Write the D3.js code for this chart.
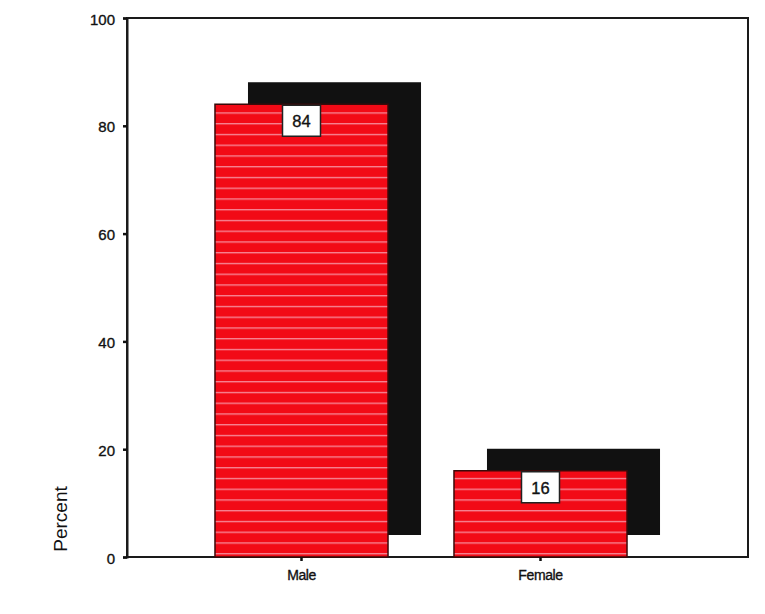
<!DOCTYPE html>
<html>
<head>
<meta charset="utf-8">
<script src="https://cdn.jsdelivr.net/npm/d3@7"></script>
<style>
  html, body { margin: 0; padding: 0; background: #fff; }
  svg { display: block; font-family: "Liberation Sans", Arial, sans-serif; }
  .heavy { stroke: #111; stroke-width: 0.35px; }
</style>
</head>
<body>
<svg id="chart" width="765" height="614"></svg>
<script>
// Gender distribution, percent
const categories = ["Male", "Female"];
const percents = [84, 16];
const yTicks = [0, 20, 40, 60, 80, 100];

const svg = d3.select("#chart");
const plotLeft = 127, plotRight = 748, plotTop = 18, plotBottom = 557;

const x = d3.scaleBand()
  .domain(categories)
  .range([182, 660])
  .paddingInner(0.276)
  .paddingOuter(0.138);

const y = d3.scaleLinear().domain([0, 100]).range([plotBottom, plotTop]);

// drop-shadow offset of the 3D-style bars
const shadowDx = 33, shadowDy = -22;

// horizontal hatch for the bar fill
const defs = svg.append("defs");
const pat = defs.append("pattern")
  .attr("id", "stripes")
  .attr("patternUnits", "userSpaceOnUse")
  .attr("x", 0).attr("y", plotBottom)
  .attr("width", 8).attr("height", 10.75);
pat.append("rect").attr("width", 8).attr("height", 10.75).attr("fill", "#f20a16");
pat.append("rect").attr("y", 7).attr("width", 8).attr("height", 1.1).attr("fill", "#f7a3b3");

// plot frame
svg.append("rect")
  .attr("x", plotLeft).attr("y", plotTop)
  .attr("width", plotRight - plotLeft).attr("height", plotBottom - plotTop)
  .attr("fill", "none").attr("stroke", "#1a1a1a").attr("stroke-width", 2);

// shadows
svg.selectAll("rect.shadow")
  .data(categories)
  .join("rect")
  .attr("class", "shadow")
  .attr("x", d => x(d) + shadowDx)
  .attr("y", (d, i) => y(percents[i]) + shadowDy)
  .attr("width", x.bandwidth())
  .attr("height", (d, i) => y(0) - y(percents[i]))
  .attr("fill", "#111");

// bars
svg.selectAll("rect.bar")
  .data(categories)
  .join("rect")
  .attr("class", "bar")
  .attr("x", d => x(d))
  .attr("y", (d, i) => y(percents[i]))
  .attr("width", x.bandwidth())
  .attr("height", (d, i) => y(0) - y(percents[i]))
  .attr("fill", "url(#stripes)")
  .attr("stroke", "#3a0a0a").attr("stroke-width", 1.5);

// value labels
const lbl = svg.selectAll("g.vlabel")
  .data(categories)
  .join("g")
  .attr("class", "vlabel")
  .attr("transform", (d, i) => `translate(${x(d) + x.bandwidth() / 2},${y(percents[i])})`);
lbl.append("rect")
  .attr("x", -19).attr("y", 1).attr("width", 38).attr("height", 31)
  .attr("fill", "#fff").attr("stroke", "#222").attr("stroke-width", 1.5);
lbl.append("text")
  .attr("class", "heavy")
  .attr("y", 23).attr("text-anchor", "middle")
  .attr("font-size", 16.5).attr("fill", "#111")
  .text((d, i) => percents[i]);

// y axis
const yAxis = svg.append("g")
  .attr("transform", `translate(${plotLeft},0)`)
  .call(d3.axisLeft(y).tickValues(yTicks).tickSize(4).tickPadding(8));
yAxis.select(".domain").attr("stroke", "#1a1a1a").attr("stroke-width", 2);
yAxis.selectAll(".tick line").attr("stroke", "#111").attr("stroke-width", 2.5);
yAxis.selectAll(".tick text").attr("class", "heavy")
  .attr("font-size", 15).attr("fill", "#111").attr("dy", "0.4em")
  .attr("font-family", "'Liberation Sans', Arial, sans-serif");

// x axis
const xAxis = svg.append("g")
  .attr("transform", `translate(0,${plotBottom})`)
  .call(d3.axisBottom(x).tickSize(4).tickPadding(9));
xAxis.select(".domain").remove();
xAxis.selectAll(".tick line").attr("stroke", "#111").attr("stroke-width", 2.5);
xAxis.selectAll(".tick text").attr("class", "heavy")
  .attr("font-size", 14).attr("fill", "#111").attr("letter-spacing", "-0.4")
  .attr("font-family", "'Liberation Sans', Arial, sans-serif");

// axis title
svg.append("text")
  .attr("transform", `translate(67,519) rotate(-90)`)
  .attr("text-anchor", "middle")
  .attr("font-size", 19).attr("fill", "#111")
  .text("Percent");
</script>
</body>
</html>
